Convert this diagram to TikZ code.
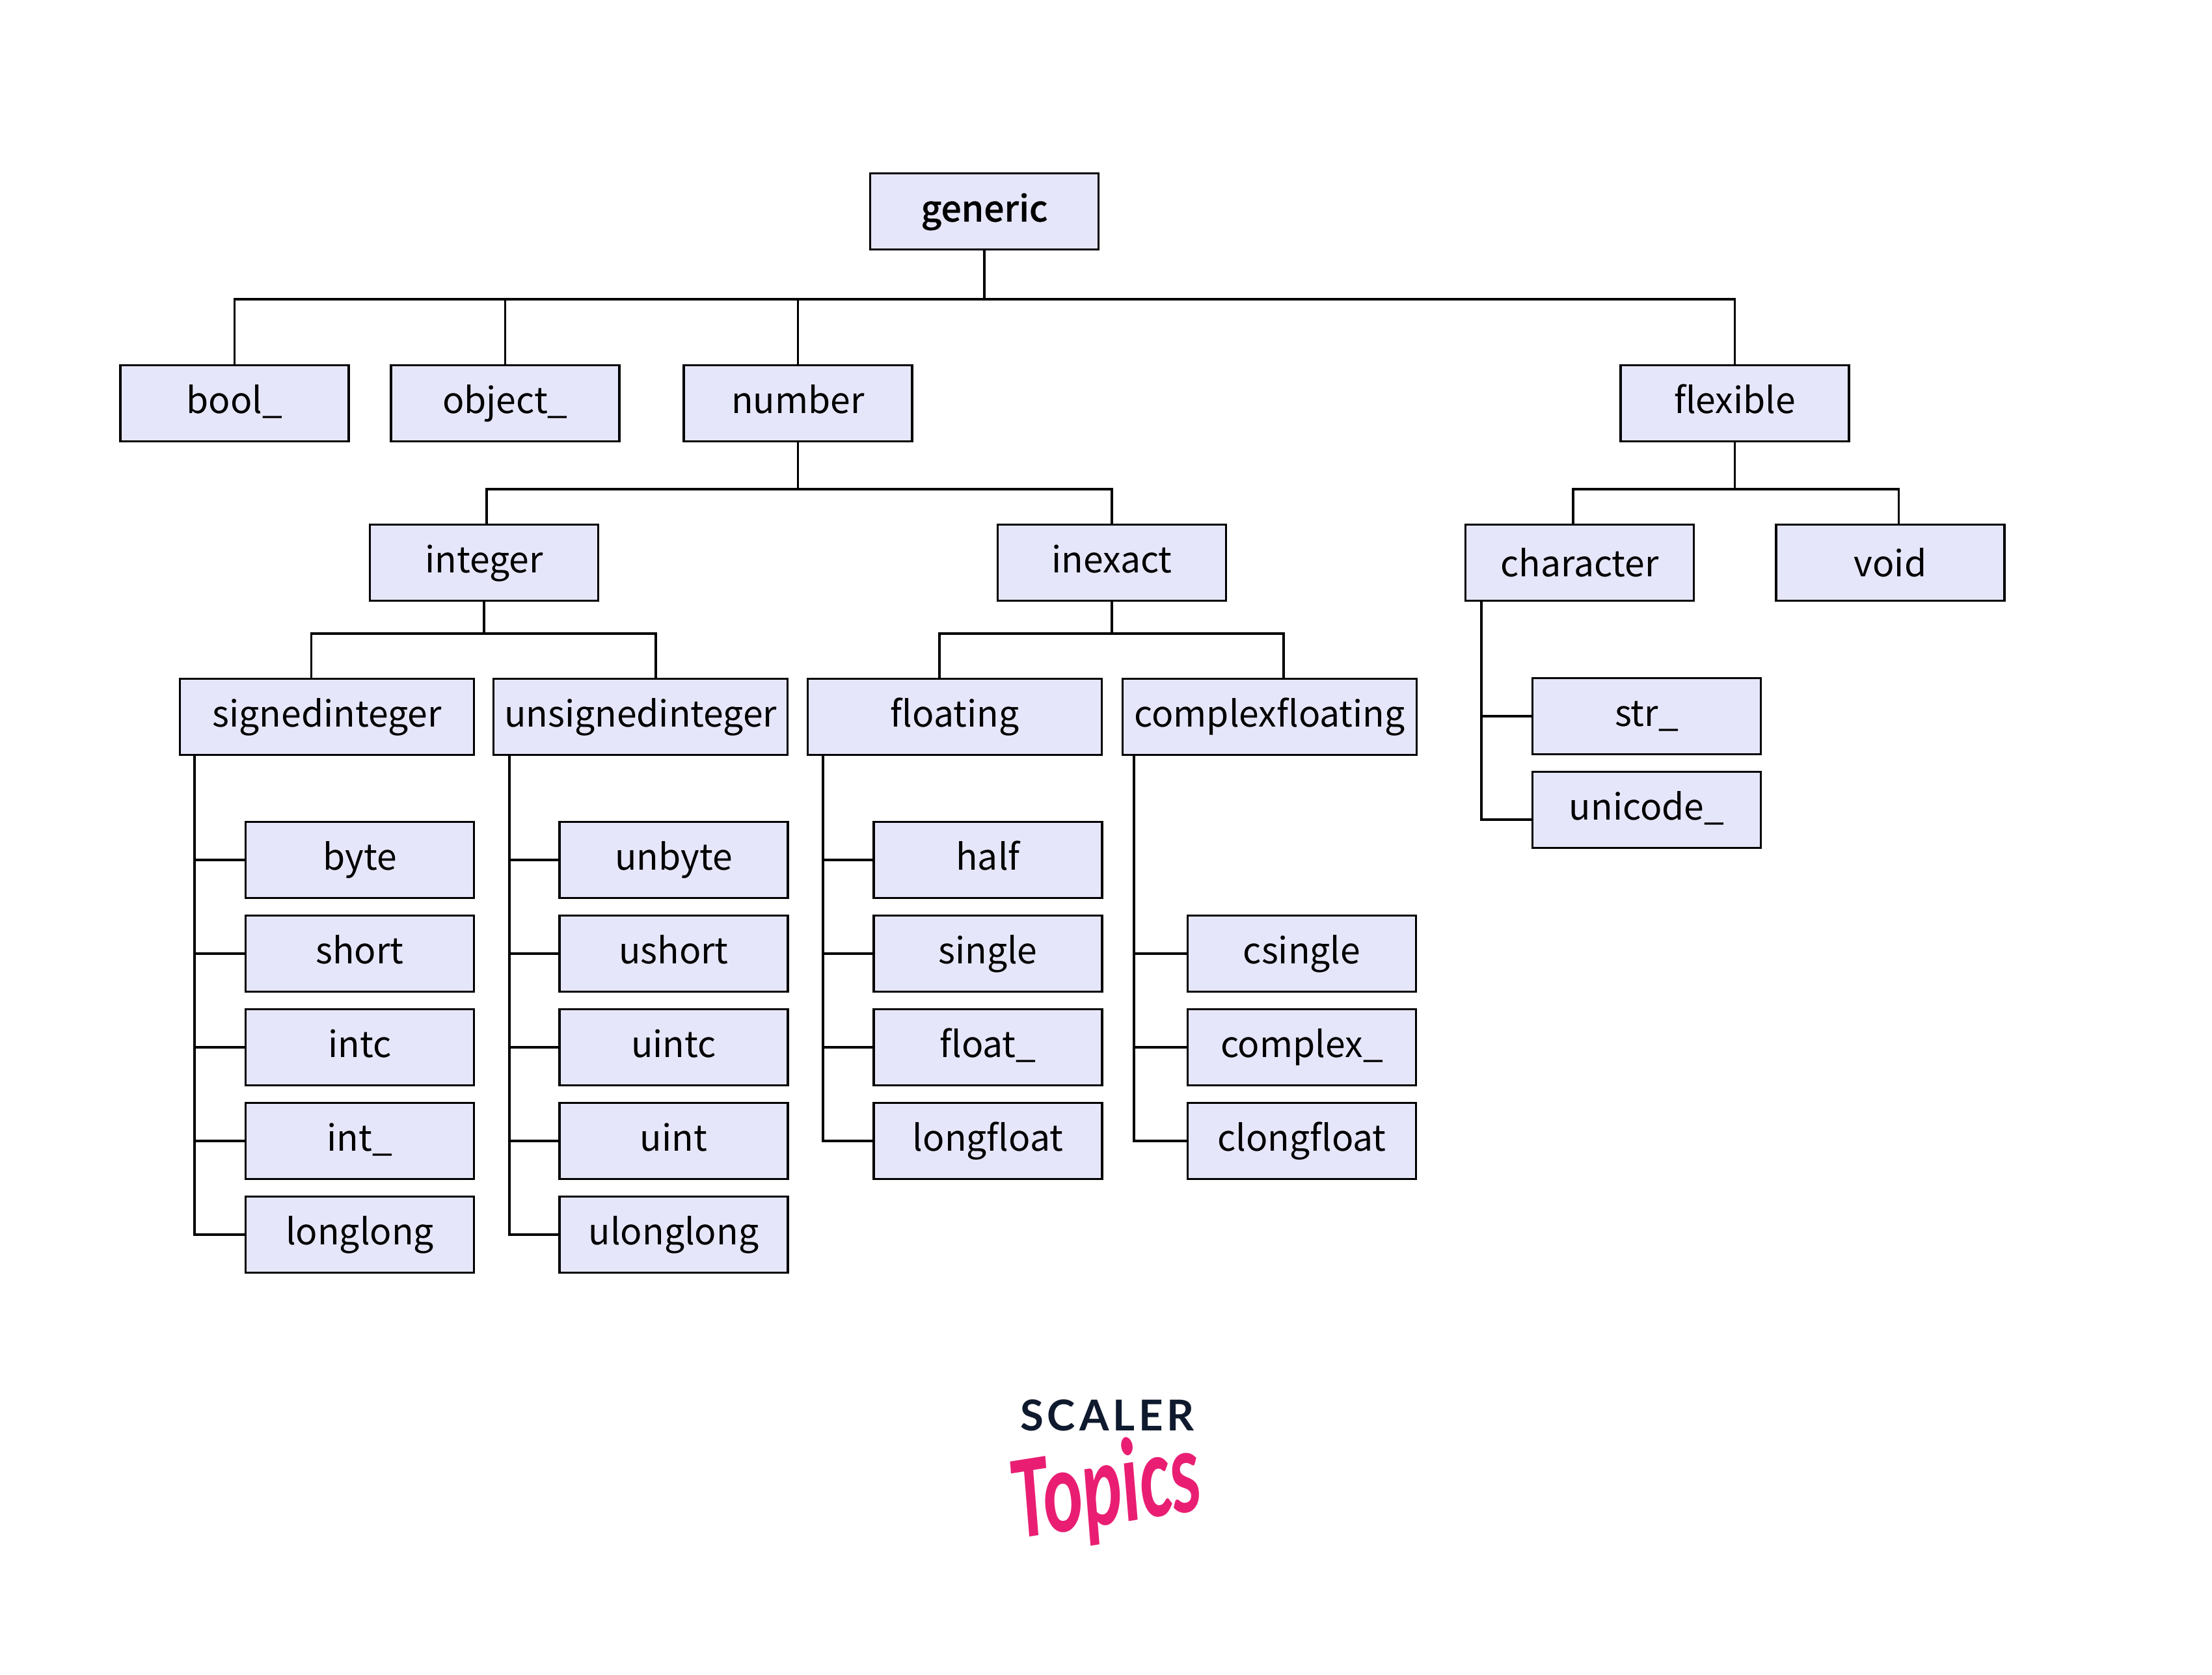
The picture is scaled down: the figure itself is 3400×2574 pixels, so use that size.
\documentclass[tikz,border=0pt]{standalone}
\usepackage{fontspec}
\setmainfont{Noto Sans CJK SC}
\newfontfamily\rootfont[FakeBold=0.5]{Noto Sans CJK SC Medium}
\newfontfamily\scalerfont[LetterSpace=9]{Lato}
\newfontfamily\topicsfont{Carlito}
\definecolor{boxfill}{HTML}{E6E6FA}
\definecolor{scalerink}{HTML}{0F1A2E}
\definecolor{topicsink}{HTML}{E91E73}
\tikzset{
    wire/.style={line width=0.033cm,black},
    box/.style={draw=black,line width=0.033cm,fill=boxfill,inner sep=0pt,
        minimum width=3.51cm,minimum height=1.17cm,
        text height=0.50cm,text depth=0.19cm,font=\fontsize{15.7}{19}\selectfont},
    lowbox/.style={box,text height=0.56cm,text depth=0.13cm},
    widebox/.style={box,minimum width=4.52cm}
}
\begin{document}
\begin{tikzpicture}[x=0.01cm,y=-0.01cm]
    \useasboundingbox (0,0) rectangle (3400,2574);
    % Top of the tree
    \node[box,font=\rootfont\fontsize{15.7}{19}\selectfont] (generic) at (1513,325) {generic};
    \coordinate (genbus) at (1513,460);
    \draw[wire] (generic.south) -- (genbus);
    \foreach \nm/\lab/\xx in {boolbox/bool\_/360.5,objectbox/object\_/776.5,number/number/1226.5,flexible/flexible/2666.5} {
        \node[box] (\nm) at (\xx,620) {\lab};
        \draw[wire] (\nm.north) |- (genbus);
    }
    % Second row
    \coordinate (numbus) at (1226.5,752);
    \coordinate (flexbus) at (2666.5,752);
    \draw[wire] (number.south) -- (numbus);
    \draw[wire] (flexible.south) -- (flexbus);
    \foreach \nm/\xx/\dx/\bus/\sty in {integer/744/0.04cm/numbus/box,inexact/1709/0cm/numbus/box,character/2428/-0.1cm/flexbus/lowbox,void/2905.5/0.13cm/flexbus/lowbox} {
        \node[\sty] (\nm) at (\xx,865) {\nm};
        \draw[wire] ([xshift=\dx]\nm.north) |- (\bus);
    }
    % Third row
    \coordinate (intbus) at (744,974);
    \coordinate (inexbus) at (1709,974);
    \draw[wire] (integer.south) -- (intbus);
    \draw[wire] (inexact.south) -- (inexbus);
    \foreach \nm/\xx/\dx/\bus in {signedinteger/502.5/-0.24cm/intbus,unsignedinteger/984.5/0.235cm/intbus,floating/1467.5/-0.235cm/inexbus,complexfloating/1951.5/0.215cm/inexbus} {
        \node[widebox] (\nm) at (\xx,1102) {\nm};
        \draw[wire] ([xshift=\dx]\nm.north) |- (\bus);
    }
    % Leaves
    \coordinate (sitrunk) at (299,1160);
    \foreach \nm/\lab/\yy in {byte/byte/1322,short/short/1466,intc/intc/1610,intu/int\_/1754,longlong/longlong/1898} {
        \node[box] (\nm) at (553,\yy) {\lab};
        \draw[wire] (sitrunk |- \nm) -- (\nm.west);
    }
    \draw[wire] (sitrunk) |- (longlong.west);
    \coordinate (utrunk) at (783,1160);
    \foreach \nm/\yy in {unbyte/1322,ushort/1466,uintc/1610,uint/1754,ulonglong/1898} {
        \node[box] (\nm) at (1035.5,\yy) {\nm};
        \draw[wire] (utrunk |- \nm) -- (\nm.west);
    }
    \draw[wire] (utrunk) |- (ulonglong.west);
    \coordinate (fltrunk) at (1265,1160);
    \foreach \nm/\lab/\yy in {half/half/1322,single/single/1466,floatu/float\_/1610,longfloat/longfloat/1754} {
        \node[box] (\nm) at (1518.5,\yy) {\lab};
        \draw[wire] (fltrunk |- \nm) -- (\nm.west);
    }
    \draw[wire] (fltrunk) |- (longfloat.west);
    \coordinate (ctrunk) at (1743,1160);
    \foreach \nm/\lab/\yy in {csingle/csingle/1466,complexu/complex\_/1610,clongfloat/clongfloat/1754} {
        \node[box] (\nm) at (2001,\yy) {\lab};
        \draw[wire] (ctrunk |- \nm) -- (\nm.west);
    }
    \draw[wire] (ctrunk) |- (clongfloat.west);
    % Characters
    \coordinate (chtrunk) at (2277,924);
    \node[box] (stru) at (2531,1101) {str\_};
    \node[box] (unicodeu) at (2531,1245) {unicode\_};
    \draw[wire] (chtrunk |- stru) -- (stru.west);
    \draw[wire] (chtrunk) |- ([yshift=-0.15cm]unicodeu.west);
    % Logo
    \node[font=\scalerfont\bfseries\fontsize{18.6}{20}\selectfont,text=scalerink,inner sep=0pt] (scaler) at (1702,2176) {SCALER};
    \node[font=\topicsfont\itshape\bfseries\fontsize{52}{54}\selectfont,text=topicsink,inner sep=0pt,rotate=9,xscale=0.63,transform shape] (topics) at (1700,2294) {Topics};
\end{tikzpicture}
\end{document}
